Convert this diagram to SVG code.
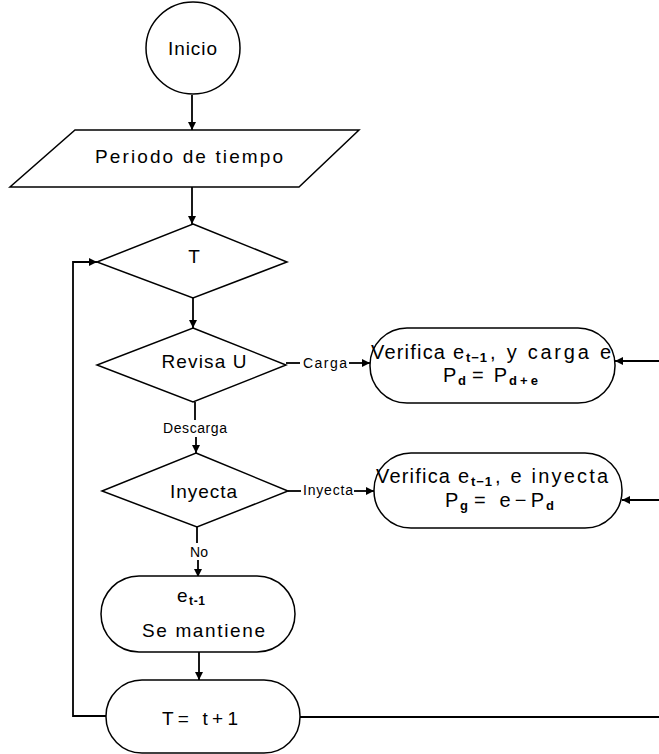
<svg xmlns="http://www.w3.org/2000/svg" width="659" height="754" viewBox="0 0 659 754">
<style>
.s{fill:#fff;stroke:#000;stroke-width:1.5}
.l{fill:none;stroke:#000;stroke-width:1.8}
.t{font-family:"Liberation Sans",Arial,sans-serif;font-size:19px;fill:#000;text-anchor:middle}
.b{font-family:"Liberation Sans",Arial,sans-serif;font-size:20px;fill:#000}
.sb{font-family:"Liberation Sans",Arial,sans-serif;font-size:13px;font-weight:bold;fill:#000}
.m{font-family:"Liberation Sans",Arial,sans-serif;font-size:14px;fill:#000;text-anchor:middle}
</style>
<defs>
<marker id="a" viewBox="0 0 10 10" refX="10" refY="5" markerWidth="8" markerHeight="8" markerUnits="userSpaceOnUse" orient="auto">
<path d="M0,0 L10,5 L0,10 z" fill="#000"/>
</marker>
</defs>
<g id="connectors">
<line class="l" x1="192" y1="95" x2="192" y2="130" marker-end="url(#a)"/>
<line class="l" x1="192" y1="187" x2="192" y2="224" marker-end="url(#a)"/>
<line class="l" x1="193" y1="298" x2="193" y2="328" marker-end="url(#a)"/>
<line class="l" x1="286" y1="363" x2="300" y2="363"/>
<text class="m" x="325" y="368" textLength="44">Carga</text>
<line class="l" x1="349" y1="363" x2="370" y2="363" marker-end="url(#a)"/>
<line class="l" x1="659" y1="361" x2="615" y2="361" marker-end="url(#a)"/>
<line class="l" x1="195" y1="402" x2="195" y2="420"/>
<text class="m" x="195" y="433" textLength="64">Descarga</text>
<line class="l" x1="196" y1="437" x2="196" y2="453" marker-end="url(#a)"/>
<line class="l" x1="288" y1="491" x2="301" y2="491"/>
<text class="m" x="328" y="495" textLength="50">Inyecta</text>
<line class="l" x1="354" y1="491" x2="374" y2="491" marker-end="url(#a)"/>
<line class="l" x1="659" y1="500" x2="622" y2="500" marker-end="url(#a)"/>
<line class="l" x1="197" y1="527" x2="197" y2="543"/>
<text class="m" x="199" y="557">No</text>
<line class="l" x1="198" y1="560" x2="198" y2="577" marker-end="url(#a)"/>
<line class="l" x1="199" y1="652" x2="199" y2="680" marker-end="url(#a)"/>
<polyline class="l" points="106,716 73,716 73,262 97,262" marker-end="url(#a)"/>
<line class="l" x1="300" y1="717" x2="659" y2="717"/>
</g>
<g id="inicio">
<ellipse class="s" cx="193" cy="48" rx="47" ry="46"/>
<text class="t" x="192.5" y="55" textLength="49">Inicio</text>
</g>
<g id="periodo">
<polygon class="s" points="75,130 359,130 299,187 10,187"/>
<text class="t" x="189" y="163" textLength="188">Periodo de tiempo</text>
</g>
<g id="decision-t">
<polygon class="s" points="193,224 287,262 193,298 97,262"/>
<text class="t" x="194" y="263">T</text>
</g>
<g id="revisa">
<polygon class="s" points="193,328 286,365 193,402 97,365"/>
<text class="t" x="204" y="368" textLength="85">Revisa U</text>
</g>
<g id="carga-box">
<rect class="s" x="370" y="328" width="245" height="75" rx="37" ry="37"/>
<text class="b" x="371" y="359" textLength="93">Verifica e</text>
<text class="sb" x="466" y="362" textLength="21">t−1</text>
<text class="b" x="490" y="359" textLength="121">, y carga e</text>
<text class="b" x="443" y="382">P</text>
<text class="sb" x="458" y="385">d</text>
<text class="b" x="472" y="382" textLength="35">= P</text>
<text class="sb" x="509" y="385" textLength="29">d+e</text>
</g>
<g id="inyecta">
<polygon class="s" points="196,453 288,491 197,527 102,491"/>
<text class="t" x="203.5" y="498" textLength="67">Inyecta</text>
</g>
<g id="inyecta-box">
<rect class="s" x="374" y="453" width="248" height="75" rx="37" ry="37"/>
<text class="b" x="376" y="483" textLength="93">Verifica e</text>
<text class="sb" x="471" y="486" textLength="21">t−1</text>
<text class="b" x="495" y="483" textLength="113">, e inyecta</text>
<text class="b" x="445" y="507">P</text>
<text class="sb" x="460" y="510">g</text>
<text class="b" x="474" y="507" textLength="70">= e−P</text>
<text class="sb" x="546" y="510">d</text>
</g>
<g id="mantiene">
<rect class="s" x="101" y="576" width="194" height="76" rx="38" ry="38"/>
<text class="b" x="177" y="602" style="font-size:19px">e</text>
<text class="sb" x="189" y="605" style="font-size:12px" textLength="16">t-1</text>
<text class="t" x="203.5" y="637" textLength="123">Se mantiene</text>
</g>
<g id="t-next">
<rect class="s" x="106" y="680" width="194" height="73" rx="36" ry="36"/>
<text class="t" x="200" y="725" textLength="76">T= t+1</text>
</g>
</svg>
